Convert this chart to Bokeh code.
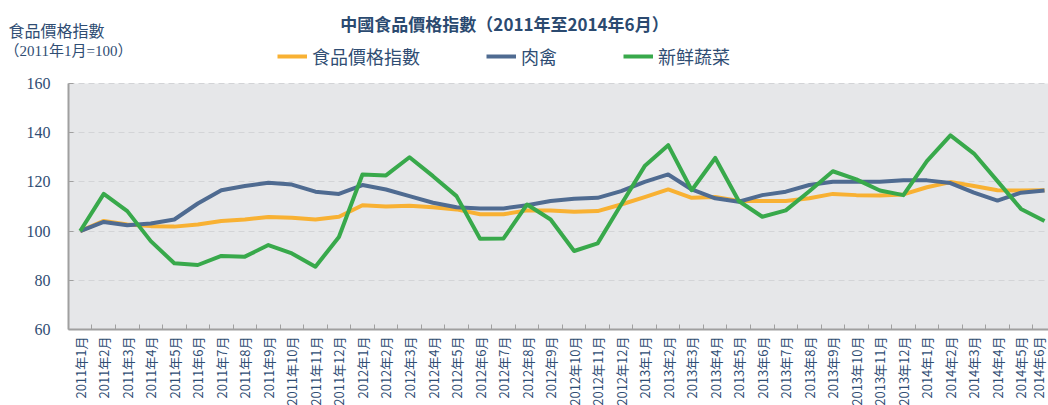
from bokeh.plotting import figure
from bokeh.models import (FixedTicker, Label, Legend, LegendItem, Range1d, BoxAnnotation)
from bokeh.embed import file_html
from bokeh.resources import INLINE

months = ["2011年1月", "2011年2月", "2011年3月", "2011年4月", "2011年5月", "2011年6月",
          "2011年7月", "2011年8月", "2011年9月", "2011年10月", "2011年11月", "2011年12月",
          "2012年1月", "2012年2月", "2012年3月", "2012年4月", "2012年5月", "2012年6月",
          "2012年7月", "2012年8月", "2012年9月", "2012年10月", "2012年11月", "2012年12月",
          "2013年1月", "2013年2月", "2013年3月", "2013年4月", "2013年5月", "2013年6月",
          "2013年7月", "2013年8月", "2013年9月", "2013年10月", "2013年11月", "2013年12月",
          "2014年1月", "2014年2月", "2014年3月", "2014年4月", "2014年5月", "2014年6月"]

food_index = [100.0, 104.1, 102.7, 102.0, 101.8, 102.7, 104.1, 104.7, 105.7, 105.4, 104.7, 105.8,
              110.5, 110.0, 110.3, 109.7, 108.8, 106.8, 106.8, 108.4, 108.4, 107.8, 108.1, 110.8,
              113.8, 116.9, 113.5, 113.8, 112.2, 112.2, 112.2, 113.3, 115.1, 114.6, 114.4, 114.9,
              117.8, 119.9, 118.3, 116.6, 116.5, 116.6]

meat_poultry = [100.0, 103.7, 102.4, 103.1, 104.7, 111.2, 116.6, 118.3, 119.6, 118.9, 116.0, 115.1,
                118.7, 116.9, 114.2, 111.5, 109.7, 109.2, 109.2, 110.5, 112.2, 113.1, 113.5, 116.2,
                120.0, 123.0, 116.9, 113.3, 111.9, 114.6, 116.0, 118.7, 120.0, 120.0, 120.0, 120.6,
                120.6, 119.5, 115.6, 112.4, 115.6, 116.5]

fresh_veg = [100.0, 115.1, 108.1, 95.9, 86.9, 86.2, 89.9, 89.6, 94.3, 90.9, 85.5, 97.6,
             123.0, 122.6, 130.0, 122.3, 114.2, 96.9, 97.0, 110.8, 104.7, 91.9, 95.0, 110.8,
             126.4, 134.9, 116.6, 129.7, 112.2, 105.8, 108.4, 116.2, 124.3, 121.0, 116.5, 114.6,
             128.4, 138.9, 131.5, 120.3, 109.0, 104.1]

y_ticks = [60, 80, 100, 120, 140, 160]

series_names = ["食品價格指數", "肉禽", "新鲜蔬菜"]
colors = ["#F8B133", "#4F6B91", "#38A94B"]

SERIF = "'Liberation Serif', 'Noto Sans CJK TC'"
CJK = "'Noto Sans CJK TC', 'Liberation Serif'"
TXT = "#2F4D73"

xs = list(range(len(months)))
X_START, X_END = -0.5, 41.17          # visible category span (right end cut like the original)
X_LEFT = -3.39                        # room on the left for value labels / titles
Y_MIN, Y_MAX = y_ticks[0], y_ticks[-1]
Y_TOP = 193.7                         # room above the plot area for title and legend
Y_BOTTOM = 29.1                       # room below the plot area for the month labels

p = figure(width=1048, height=405, output_backend="svg", toolbar_location=None,
           x_range=Range1d(X_LEFT, X_END), y_range=Range1d(Y_BOTTOM, Y_TOP),
           min_border=0)
p.outline_line_color = None
p.background_fill_color = "white"
p.border_fill_color = "white"

plot_bg = BoxAnnotation(left=X_START, bottom=Y_MIN, top=Y_MAX, fill_color="#E6E7E9",
                        fill_alpha=1, line_color=None, level="image")
p.add_layout(plot_bg)

renderers = []
for vals, c in zip([food_index, meat_poultry, fresh_veg], colors):
    r = p.line(xs, vals, line_color=c, line_width=4, line_join="round")
    renderers.append(r)

# x axis drawn at the bottom of the plot area
xa = p.xaxis[0]
xa.fixed_location = Y_MIN
xa.bounds = (X_START, X_END)
xa.ticker = FixedTicker(ticks=xs, minor_ticks=[i + 0.5 for i in xs[:-1]])
xa.major_label_overrides = {i: m for i, m in enumerate(months)}
xa.major_label_orientation = 1.5708
xa.major_tick_in = 0
xa.major_tick_out = 0
xa.minor_tick_in = 5
xa.minor_tick_out = 0
xa.minor_tick_line_color = "#A0A0A0"
xa.axis_line_color = "#A0A0A0"
xa.axis_line_width = 2
xa.major_label_text_font = CJK
xa.major_label_text_font_size = "13px"
xa.major_label_text_color = TXT
xa.major_label_standoff = 7

# y axis drawn at the left edge of the plot area
ya = p.yaxis[0]
ya.fixed_location = X_START
ya.bounds = (Y_MIN, Y_MAX)
ya.ticker = FixedTicker(ticks=y_ticks)
ya.major_tick_in = 5
ya.major_tick_out = 0
ya.minor_tick_line_color = None
ya.major_tick_line_color = "#A0A0A0"
ya.axis_line_color = "#A0A0A0"
ya.axis_line_width = 2
ya.major_label_text_font = SERIF
ya.major_label_text_font_size = "16px"
ya.major_label_text_color = TXT
ya.major_label_standoff = 18

p.xgrid.grid_line_color = None
p.ygrid.ticker = FixedTicker(ticks=y_ticks[1:])
p.ygrid.grid_line_color = "#D3D4D7"
p.ygrid.grid_line_dash = "6 4"
p.ygrid.grid_line_width = 1
try:
    p.ygrid.cross_bounds = (X_START, X_END)
except Exception:
    pass

legend = Legend(items=[LegendItem(label=n, renderers=[r]) for n, r in zip(series_names, renderers)],
                orientation="horizontal", location=(277, 336),
                background_fill_alpha=0, border_line_color=None,
                label_text_font=CJK, label_text_font_size="18px", label_text_color=TXT,
                glyph_width=30, label_standoff=5, spacing=66, padding=0, margin=0)
p.add_layout(legend, "center")

p.add_layout(Label(x=504, y=382, x_units="screen", y_units="screen",
                   text="中國食品價格指數（2011年至2014年6月）", text_align="center",
                   text_baseline="middle", text_font=CJK, text_font_size="17px",
                   text_font_style="bold", text_color="#2B4A70"))
p.add_layout(Label(x=8, y=376, x_units="screen", y_units="screen",
                   text="食品價格指數", text_align="left", text_baseline="middle",
                   text_font=CJK, text_font_size="16px", text_color=TXT))
p.add_layout(Label(x=4, y=355, x_units="screen", y_units="screen",
                   text="（2011年1月=100）", text_align="left", text_baseline="middle",
                   text_font=SERIF, text_font_size="15px", text_color=TXT))

open("out.html", "w").write(file_html(p, INLINE))
